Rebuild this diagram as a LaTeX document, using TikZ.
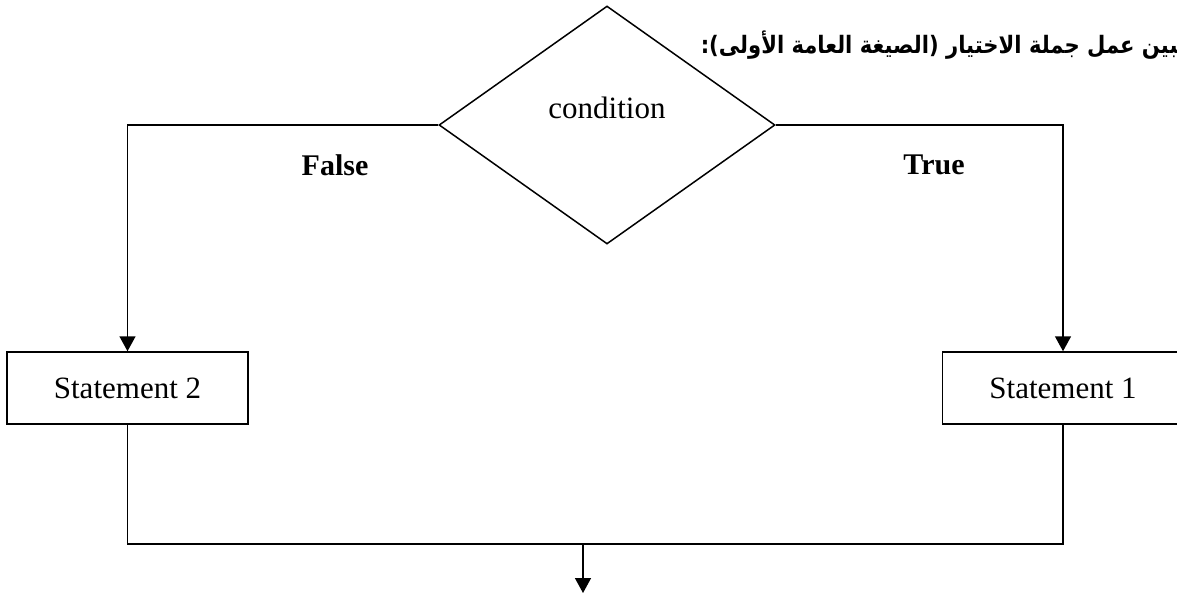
\documentclass[tikz,border=0pt]{standalone}
\usepackage{fontspec}
\setmainfont{Liberation Serif}
\newfontfamily\arabicfont[Script=Arabic,FakeStretch=0.88]{DejaVu Sans}
\TeXXeTstate=1
\usetikzlibrary{shapes.geometric,arrows.meta}
\begin{document}
\begin{tikzpicture}[x=1pt,y=-1pt,
  line width=1.5pt,
  flow/.style={-{Triangle[width=16pt,length=15pt]}},
  stmtbox/.style={draw,rectangle,minimum width=241pt,minimum height=72pt,inner sep=0pt,font=\fontsize{31}{36}\selectfont},
  decide/.style={draw,diamond,minimum width=336pt,minimum height=238pt,inner sep=0pt},
  branchlabel/.style={font=\fontsize{30}{36}\selectfont\bfseries}]
\useasboundingbox (0,0) rectangle (1177,594);

% heading, running off the right edge of the page
\node[anchor=base west,inner sep=0pt,font=\fontsize{24}{28}\selectfont\bfseries] (title) at (700,54)
  {\arabicfont\beginR يبين عمل جملة الاختيار (الصيغة العامة الأولى):\endR};

% decision
\node[decide] (cond) at (607,125) {};
\node[font=\fontsize{31}{36}\selectfont] (condtext) at (607,108) {condition};

% statements
\node[stmtbox] (s2) at (127.5,388) {Statement 2};
\node[stmtbox] (s1) at (1063,388) {Statement 1};

% branch labels
\node[branchlabel] (lfalse) at (335,165) {False};
\node[branchlabel] (ltrue) at (934,165) {True};

% branches
\draw[flow] (cond.west) -| (s2.north);
\draw[flow] (cond.east) -| (s1.north);

% merge
\coordinate (merge) at (583,544);
\coordinate (exit) at (583,593);
\draw (s2.south) |- (merge) -| (s1.south);
\draw[flow] (merge) -- (exit);
\end{tikzpicture}
\end{document}
